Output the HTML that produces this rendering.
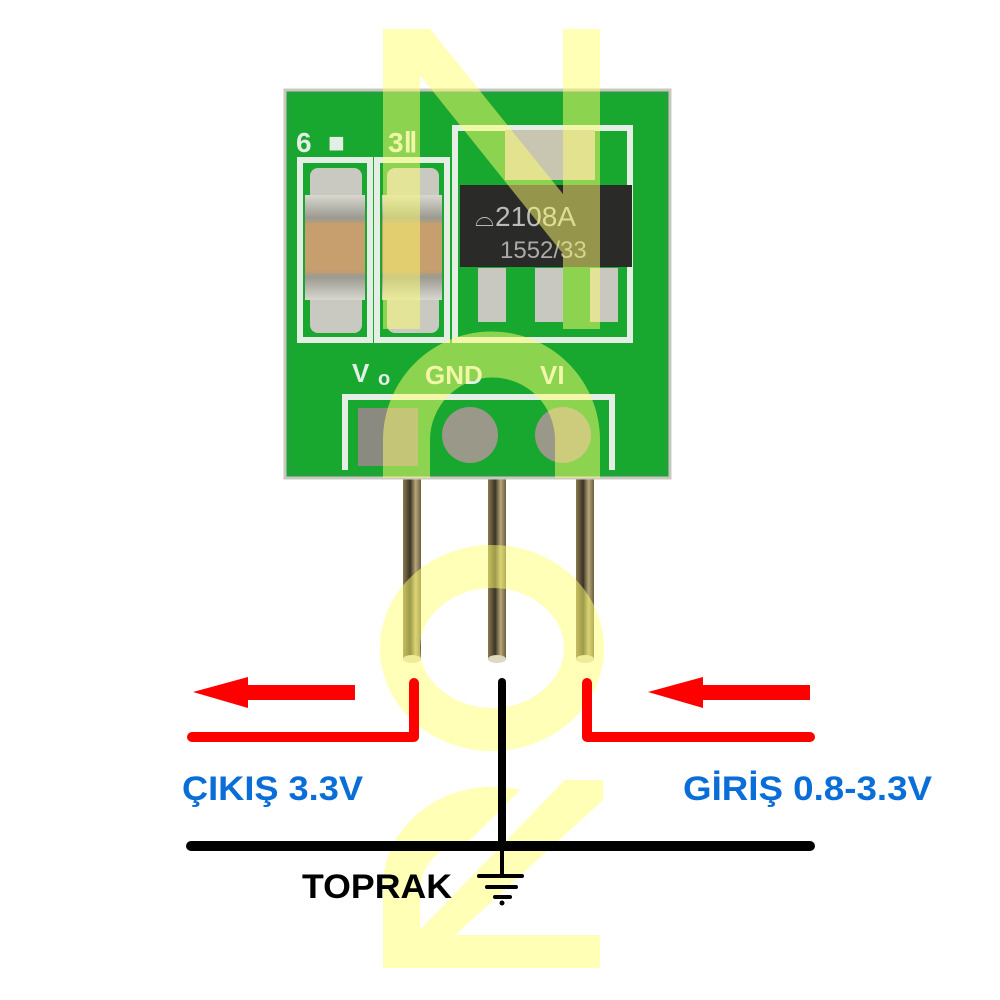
<!DOCTYPE html>
<html><head><meta charset="utf-8"><style>
html,body{margin:0;padding:0;background:#fff;width:1000px;height:1000px;overflow:hidden}
svg{display:block}
</style></head><body>
<svg width="1000" height="1000" viewBox="0 0 1000 1000" xmlns="http://www.w3.org/2000/svg">
<defs>
<linearGradient id="pin" x1="0" x2="1">
<stop offset="0" stop-color="#8a7a50"/><stop offset="0.4" stop-color="#3a3426"/><stop offset="0.7" stop-color="#b8a878"/><stop offset="1" stop-color="#6a5e40"/>
</linearGradient>
<linearGradient id="cap" x1="0" y1="0" x2="0" y2="1">
<stop offset="0" stop-color="#d8d8d0"/><stop offset="0.22" stop-color="#9a9a90"/><stop offset="0.28" stop-color="#c79e6e"/><stop offset="0.72" stop-color="#c79e6e"/><stop offset="0.78" stop-color="#9a9a90"/><stop offset="1" stop-color="#d8d8d0"/>
</linearGradient>
</defs>
<rect x="403" y="470" width="18" height="190" fill="url(#pin)"/>
<rect x="488" y="470" width="18" height="190" fill="url(#pin)"/>
<rect x="576" y="470" width="18" height="190" fill="url(#pin)"/>
<ellipse cx="412" cy="659" rx="9" ry="4" fill="#ddd8c0"/>
<ellipse cx="497" cy="659" rx="9" ry="4" fill="#ddd8c0"/>
<ellipse cx="585" cy="659" rx="9" ry="4" fill="#ddd8c0"/>
<rect x="285" y="90" width="385" height="388" fill="#1fa336" stroke="#c8c8c0" stroke-width="3"/>
<rect x="292" y="96" width="372" height="376" fill="#18a830"/>
<g fill="none" stroke="#e4eee4" stroke-width="6">
<rect x="300" y="160" width="70" height="180"/>
<rect x="377" y="160" width="70" height="180"/>
<polyline points="455,160 455,128 630,128 630,340 455,340 455,160"/>
<polyline points="345,470 345,397 612,397 612,470"/>
</g>
<g fill="#e4eee4" font-family="Liberation Sans,sans-serif" font-weight="bold" font-size="28">
<text x="296" y="152">6</text><text x="328" y="152">■</text><text x="388" y="152">3Ⅱ</text>
<text x="352" y="382" font-size="26">V</text><text x="378" y="385" font-size="20">o</text>
<text x="425" y="384" font-size="26">GND</text>
<text x="540" y="384" font-size="26">VI</text>
</g>
<rect x="310" y="168" width="52" height="165" rx="8" fill="#c9c9c2"/>
<rect x="305" y="195" width="60" height="105" fill="url(#cap)"/>
<rect x="387" y="168" width="52" height="165" rx="8" fill="#c9c9c2"/>
<rect x="382" y="195" width="60" height="105" fill="url(#cap)"/>
<rect x="505" y="130" width="90" height="50" fill="#c8c5b0"/>
<rect x="460" y="185" width="172" height="82" fill="#2a2a28"/>
<text x="495" y="226" fill="#bbb" font-family="Liberation Sans,sans-serif" font-size="28">2108A</text>
<text x="475" y="226" fill="#bbb" font-family="Liberation Sans,sans-serif" font-size="24">⌓</text>
<text x="500" y="258" fill="#aaa" font-family="Liberation Sans,sans-serif" font-size="24">1552/33</text>
<rect x="478" y="268" width="28" height="54" fill="#c8c8c0"/>
<rect x="535" y="268" width="28" height="54" fill="#c8c8c0"/>
<rect x="590" y="268" width="28" height="54" fill="#c8c8c0"/>
<rect x="358" y="408" width="60" height="58" fill="#8a8a80"/>
<circle cx="470" cy="435" r="28" fill="#9a9888"/>
<circle cx="563" cy="435" r="28" fill="#9a9888"/>
<g fill="#ffff70" opacity="0.5">
<rect x="383" y="29" width="37" height="300"/>
<rect x="563" y="29" width="37" height="300"/>
<polygon points="383,29 430,29 600,240 600,300"/>
<path d="M383,478 L383,440 A108,108 0 0 1 600,440 L600,478 L555,478 L555,440 A62,62 0 0 0 430,440 L430,478 Z"/>
<path fill-rule="evenodd" d="M380,648 A112,103 0 1 0 604,648 A112,103 0 1 0 380,648 Z M420,648 A72,60 0 1 0 564,648 A72,60 0 1 0 420,648 Z"/>
<path d="M383,968 L383,880 A110,100 0 0 1 520,790 L470,840 A60,50 0 0 0 420,890 L420,935 L600,935 L600,968 Z"/>
<polygon points="565,780 603,780 603,800 455,935 415,935"/>
</g>
<g fill="#ff0000">
<rect x="240" y="685" width="115" height="15"/>
<polygon points="193,692 248,677 248,708"/>
<rect x="700" y="685" width="110" height="15"/>
<polygon points="648,692 703,677 703,708"/>
</g>
<g fill="none" stroke="#ff0000" stroke-width="10" stroke-linecap="round" stroke-linejoin="round">
<polyline points="192,737 414,737 414,683"/>
<polyline points="810,737 587,737 587,683"/>
</g>
<g stroke="#000" stroke-linecap="round" fill="none">
<line x1="502" y1="682" x2="502" y2="845" stroke-width="8"/>
<line x1="191" y1="846" x2="810" y2="846" stroke-width="10"/>
<line x1="502" y1="846" x2="502" y2="875" stroke-width="4"/>
<line x1="479" y1="876" x2="522" y2="876" stroke-width="4"/>
<line x1="487" y1="887" x2="516" y2="887" stroke-width="4"/>
<line x1="495" y1="897" x2="510" y2="897" stroke-width="4"/>
</g>
<circle cx="502" cy="903" r="2.5" fill="#000"/>
<g font-family="Liberation Sans,sans-serif" font-weight="bold">
<text x="182" y="800" font-size="34" fill="#0a6ed8" textLength="181" lengthAdjust="spacingAndGlyphs">ÇIKIŞ 3.3V</text>
<text x="683" y="800" font-size="34" fill="#0a6ed8" textLength="249" lengthAdjust="spacingAndGlyphs">GİRİŞ 0.8-3.3V</text>
<text x="302" y="898" font-size="34" fill="#000" textLength="150" lengthAdjust="spacingAndGlyphs">TOPRAK</text>
</g>
</svg>
</body></html>
